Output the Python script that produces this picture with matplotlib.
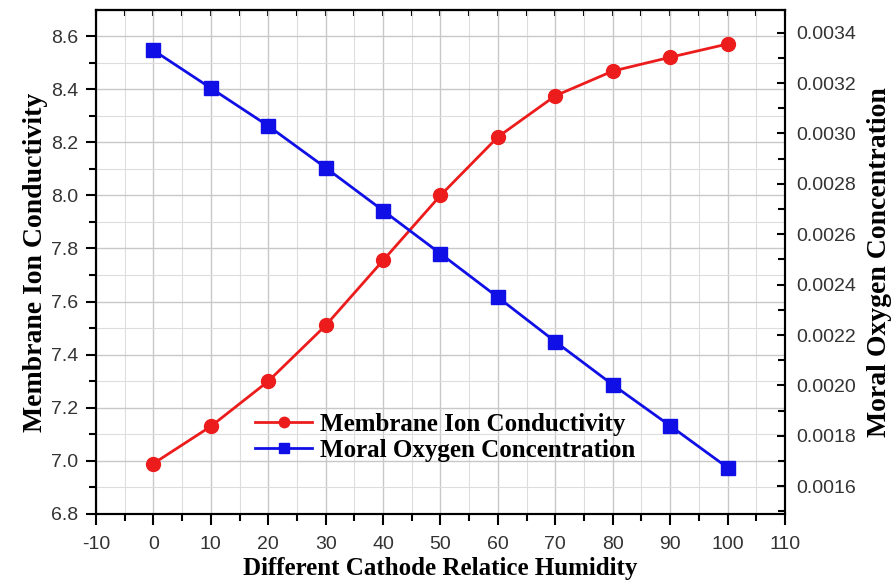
import numpy as np
import matplotlib
matplotlib.use("Agg")
import matplotlib.pyplot as plt
from matplotlib.ticker import MultipleLocator, NullFormatter

plt.rcParams['axes.unicode_minus'] = False

# data
humidity = [0, 10, 20, 30, 40, 50, 60, 70, 80, 90, 100]
conductivity = [6.99, 7.13, 7.30, 7.51, 7.755, 8.0, 8.22, 8.375, 8.468, 8.52, 8.57]
oxygen = [0.00333, 0.00318, 0.00303, 0.002864, 0.002694, 0.002523,
          0.00235, 0.002174, 0.002003, 0.00184, 0.001674]

x_label = "Different Cathode Relatice Humidity"
y_label = "Membrane Ion Conductivity"
y2_label = "Moral Oxygen Concentration"

tick_font = "Liberation Sans"
label_font = "Liberation Serif"

fig = plt.figure(figsize=(8.92, 5.8), dpi=100)
ax = fig.add_axes([96/892, 1 - 514/580, (785-96)/892, (514-10)/580])
ax2 = ax.twinx()

# 网格
ax.set_axisbelow(True)
ax.grid(which="major", color="#c8c8c8", linewidth=1.0)
ax.grid(which="minor", color="#dddddd", linewidth=0.8)

l1, = ax.plot(humidity, conductivity, color="#ec1c1c", linewidth=2,
              marker="o", markersize=10, label="Membrane Ion Conductivity")
l2, = ax2.plot(humidity, oxygen, color="#1010e6", linewidth=2,
               marker="s", markersize=10, label="Moral Oxygen Concentration")

ax.set_xlim(-10, 110)
ax.set_ylim(6.8, 8.698)
ax2.set_ylim(0.00149, 0.00349)

ax.xaxis.set_major_locator(MultipleLocator(10))
ax.xaxis.set_minor_locator(MultipleLocator(5))
ax.yaxis.set_major_locator(MultipleLocator(0.2))
ax.yaxis.set_minor_locator(MultipleLocator(0.1))
ax2.yaxis.set_major_locator(MultipleLocator(0.0002))
ax2.yaxis.set_minor_locator(MultipleLocator(0.0001))
ax.yaxis.set_major_formatter(plt.FormatStrFormatter("%.1f"))
ax2.yaxis.set_major_formatter(plt.FormatStrFormatter("%.4f"))

ax.tick_params(axis="both", which="both", direction="out", width=1.5, labelsize=14)
ax.tick_params(axis="x", which="major", length=8, pad=8)
ax.tick_params(axis="x", which="minor", length=5)
ax.tick_params(axis="y", which="major", length=7, pad=6)
ax.tick_params(axis="y", which="minor", length=5)
ax2.tick_params(axis="y", which="both", direction="in", width=1.5, labelsize=14, pad=8)
ax2.tick_params(axis="y", which="major", length=6)
ax2.tick_params(axis="y", which="minor", length=5)

# top ticks point inside
top = ax.secondary_xaxis("top")
top.xaxis.set_major_locator(MultipleLocator(10))
top.xaxis.set_minor_locator(MultipleLocator(5))
top.xaxis.set_major_formatter(NullFormatter())
top.tick_params(axis="x", which="both", direction="in", width=1.5, length=4)
top.spines["top"].set_linewidth(1.5)

for lab in ax.get_xticklabels() + ax.get_yticklabels() + ax2.get_yticklabels():
    lab.set_fontfamily(tick_font)
    lab.set_color("#333333")

for a in (ax, ax2):
    for s in a.spines.values():
        s.set_linewidth(1.5)

ax.set_xlabel(x_label, fontfamily=label_font, fontweight="bold", fontsize=18, labelpad=3)
ax.set_ylabel(y_label, fontfamily=label_font, fontweight="bold", fontsize=20, labelpad=2)
ax2.set_ylabel(y2_label, fontfamily=label_font, fontweight="bold", fontsize=20, labelpad=8)

leg = ax.legend([l1, l2], [l1.get_label(), l2.get_label()], loc="upper left",
                bbox_to_anchor=(0.198, 0.245), frameon=False, markerscale=0.75,
                handlelength=2.3, handletextpad=0.3, labelspacing=0.1,
                prop={"family": label_font, "weight": "bold", "size": 18})

fig.savefig("out.png", dpi=100)
